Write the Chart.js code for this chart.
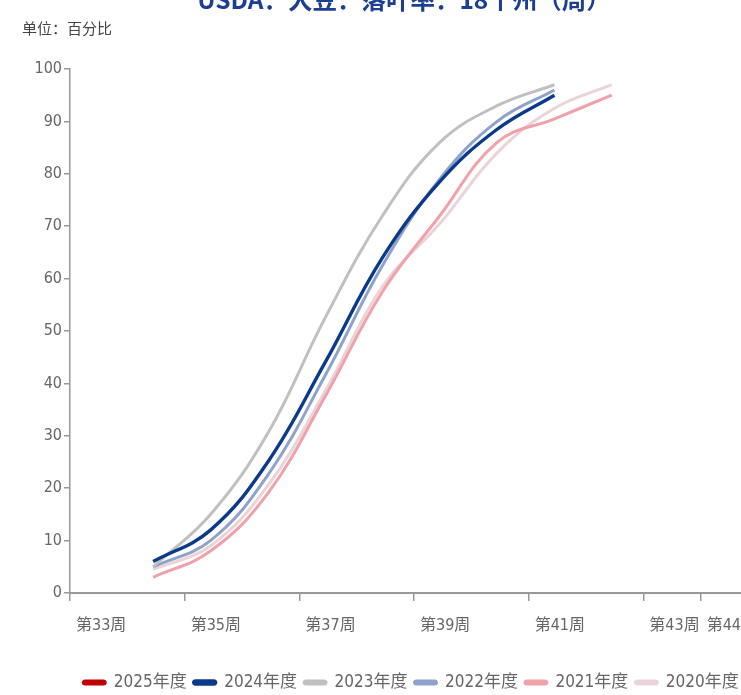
<!DOCTYPE html>
<html>
<head>
<meta charset="utf-8">
<script src="https://cdn.jsdelivr.net/npm/chart.js@4/dist/chart.umd.min.js"></script>
<style>
  html, body { margin: 0; padding: 0; background: #fff; }
  #wrap { width: 741px; height: 695px; overflow: hidden; position: relative; }
  #wrap canvas { position: absolute; left: 0; top: 0; }
</style>
</head>
<body>
<div id="wrap"><canvas id="c" width="822" height="701"></canvas></div>
<script>
// Soybeans dropping leaves, 18 states, % by week of year
const weeks = [34, 35, 36, 37, 38, 39, 40, 41, 42];
const xTickWeeks = [33, 35, 37, 39, 41, 43, 44];
const yTicks = [0, 10, 20, 30, 40, 50, 60, 70, 80, 90, 100];

const s2025 = [];
const s2024 = [6, 12, 25, 44, 64, 78.5, 88.5, 95];
const s2023 = [5, 15, 30.5, 52.5, 72, 86, 93, 97];
const s2022 = [5, 10, 22.5, 41.5, 62.5, 79, 90, 96];
const s2021 = [3, 8, 19, 37.5, 57.5, 72, 86, 90.5, 95];
const s2020 = [4.5, 9, 20.5, 38.5, 58.5, 70.5, 84, 92.5, 97];

const TITLE = 'USDA：大豆：落叶率：18个州（周）';
const UNIT = '单位：百分比';

// weekly reports land mid-week, so each reading sits a little past its week tick
const REPORT_OFFSET = 0.45;
const toPoints = arr => arr.map((v, i) => ({ x: weeks[i] + REPORT_OFFSET, y: v }));

const NUM_FONT = '"DejaVu Sans Condensed", "Liberation Sans Narrow", "Noto Sans CJK SC", sans-serif';

function series(label, data, color, width) {
  return {
    label, data: toPoints(data),
    borderColor: color, backgroundColor: color,
    borderWidth: width, pointRadius: 0, pointHoverRadius: 0,
    tension: 0.4, fill: false, yAxisID: 'y'
  };
}

const headerPlugin = {
  id: 'header',
  afterDraw(chart) {
    const ctx = chart.ctx;
    ctx.save();
    ctx.fillStyle = '#1c3f94';
    ctx.font = 'bold 24.5px "Noto Sans CJK SC", sans-serif';
    ctx.textAlign = 'center';
    ctx.textBaseline = 'alphabetic';
    ctx.fillText(TITLE, 404, 9);
    ctx.fillStyle = '#444';
    ctx.font = '15px "Noto Sans CJK SC", sans-serif';
    ctx.textAlign = 'left';
    ctx.textBaseline = 'middle';
    ctx.fillText(UNIT, 22, 28);
    ctx.restore();
  }
};

new Chart(document.getElementById('c'), {
  type: 'line',
  data: {
    datasets: [
      series('2025年度', s2025, '#c00000', 3),
      series('2024年度', s2024, '#0b3a8a', 3.4),
      series('2023年度', s2023, '#c0c0c0', 3),
      series('2022年度', s2022, '#8ea3cb', 3),
      series('2021年度', s2021, '#f0a1a9', 3),
      series('2020年度', s2020, '#ead4d7', 3)
    ]
  },
  options: {
    responsive: false,
    animation: false,
    layout: { padding: { top: 69, right: 0, left: 0, bottom: 0 } },
    plugins: {
      title: { display: false },
      tooltip: { enabled: false },
      legend: {
        position: 'bottom',
        labels: {
          boxWidth: 22, boxHeight: 3, padding: 7,
          useBorderRadius: true, borderRadius: 2,
          color: '#666',
          font: { family: NUM_FONT, size: 17 }
        }
      }
    },
    scales: {
      x: {
        type: 'linear', min: 33, max: 45,
        afterBuildTicks: s => { s.ticks = xTickWeeks.map(v => ({ value: v })); },
        afterFit: s => { s.height = 74; },
        grid: { display: true, drawOnChartArea: false, drawTicks: true, tickLength: 8, color: '#999', lineWidth: 1.5 },
        border: { display: true, color: '#999', width: 2 },
        ticks: {
          autoSkip: false, maxRotation: 0, align: 'start', labelOffset: 6, padding: 15,
          color: '#666', font: { family: NUM_FONT, size: 16 },
          callback: v => '第' + v + '周'
        }
      },
      y: {
        min: 0, max: 100,
        afterBuildTicks: s => { s.ticks = yTicks.map(v => ({ value: v })); },
        afterFit: s => { s.width = 70; },
        grid: { display: true, drawOnChartArea: false, drawTicks: true, tickLength: 6, color: '#999', lineWidth: 1.5 },
        border: { display: true, color: '#999', width: 1.5 },
        ticks: { padding: 2, color: '#666', font: { family: NUM_FONT, size: 16 } }
      },
      // empty right-hand gutter that keeps the week axis running on past 44
      gutter: {
        position: 'right', min: 0, max: 1,
        afterFit: s => { s.width = 64; },
        ticks: { display: false },
        grid: { display: false },
        border: { display: false }
      }
    }
  },
  plugins: [headerPlugin]
});
</script>
</body>
</html>
